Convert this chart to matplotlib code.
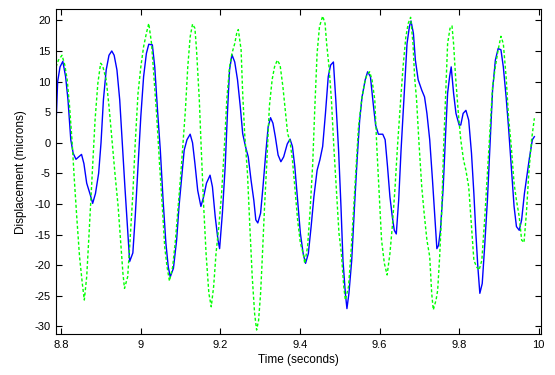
import matplotlib
matplotlib.use("Agg")
import matplotlib.pyplot as plt

plt.rcParams['font.family'] = ['Liberation Sans', 'DejaVu Sans']
plt.rcParams['axes.unicode_minus'] = False

# blue trace (solid)
t_blue = [8.787, 8.791, 8.797, 8.804, 8.811, 8.817, 8.824, 8.830, 8.837, 8.851,
          8.857, 8.864, 8.873, 8.879, 8.886, 8.894, 8.900, 8.906, 8.913, 8.920,
          8.927, 8.933, 8.940, 8.947, 8.953, 8.960, 8.967, 8.972, 8.980, 8.986,
          8.993, 9.000, 9.007, 9.014, 9.020, 9.029, 9.035, 9.042, 9.049, 9.056,
          9.063, 9.069, 9.074, 9.082, 9.090, 9.096, 9.103, 9.109, 9.116, 9.124,
          9.130, 9.136, 9.143, 9.151, 9.158, 9.165, 9.174, 9.180, 9.187, 9.194,
          9.198, 9.205, 9.212, 9.218, 9.223, 9.229, 9.236, 9.243, 9.250, 9.256,
          9.263, 9.270, 9.277, 9.284, 9.289, 9.294, 9.301, 9.307, 9.314, 9.320,
          9.326, 9.332, 9.338, 9.345, 9.352, 9.359, 9.368, 9.375, 9.381, 9.387,
          9.394, 9.401, 9.408, 9.414, 9.421, 9.428, 9.435, 9.443, 9.450, 9.457,
          9.464, 9.471, 9.477, 9.484, 9.490, 9.497, 9.503, 9.508, 9.514, 9.518,
          9.523, 9.530, 9.537, 9.544, 9.550, 9.556, 9.564, 9.570, 9.577, 9.584,
          9.590, 9.597, 9.608, 9.614, 9.620, 9.626, 9.632, 9.637, 9.642, 9.648,
          9.654, 9.662, 9.669, 9.675, 9.679, 9.685, 9.690, 9.697, 9.706, 9.713,
          9.719, 9.726, 9.733, 9.739, 9.744, 9.748, 9.753, 9.760, 9.766, 9.771,
          9.776, 9.780, 9.786, 9.792, 9.800, 9.804, 9.810, 9.817, 9.824, 9.831,
          9.837, 9.842, 9.847, 9.852, 9.858, 9.864, 9.871, 9.877, 9.884, 9.891,
          9.898, 9.905, 9.911, 9.918, 9.924, 9.931, 9.938, 9.944, 9.951, 9.957,
          9.964, 9.971, 9.977, 9.984, 9.989]
y_blue = [3.0, 10.0, 12.4, 13.3, 10.8, 7.0, 0.5, -1.7, -2.7, -1.9,
          -3.4, -6.6, -8.5, -9.9, -8.3, -5.0, 0.0, 7.0, 11.9, 14.3,
          15.0, 14.3, 11.9, 7.0, 0.5, -7.2, -14.3, -19.4, -18.0, -12.0,
          -3.9, 4.3, 10.8, 14.6, 16.1, 16.0, 12.4, 5.3, -1.2, -9.4,
          -16.4, -20.3, -21.9, -20.5, -15.9, -10.4, -5.5, -1.2, 0.5, 1.4,
          0.0, -3.4, -7.8, -10.4, -8.8, -6.6, -5.3, -7.2, -12.1, -15.9,
          -17.3, -11.5, -3.9, 5.3, 11.9, 14.4, 13.2, 10.3, 5.9, 1.5,
          -0.6, -2.3, -6.1, -9.4, -12.6, -13.1, -11.5, -7.2, -1.7, 2.6,
          4.1, 3.2, 1.0, -2.0, -3.1, -2.3, -0.2, 0.6, -0.6, -3.9,
          -9.4, -14.8, -18.1, -19.7, -18.1, -13.7, -8.8, -4.5, -2.8, -0.6,
          4.8, 10.8, 12.7, 13.2, 7.0, -1.2, -10.4, -19.2, -24.6, -27.1,
          -24.6, -19.2, -10.4, -2.3, 3.7, 7.5, 10.3, 11.6, 10.8, 6.4,
          2.9, 1.4, 1.4, 0.5, -3.9, -8.8, -12.1, -14.3, -14.9, -9.4,
          -1.2, 8.1, 16.2, 19.0, 19.9, 17.9, 13.5, 10.3, 8.6, 7.5,
          4.8, 0.5, -6.1, -12.1, -17.3, -16.8, -14.3, -7.2, 1.5, 8.1,
          10.8, 12.4, 8.1, 4.8, 2.9, 2.9, 4.8, 5.3, 3.7, -1.7,
          -8.3, -14.8, -20.3, -24.6, -23.0, -17.0, -9.4, -1.2, 8.6, 13.5,
          15.4, 15.2, 12.4, 7.5, 2.6, -3.9, -10.4, -13.7, -14.3, -12.6,
          -8.3, -5.0, -2.3, 0.5, 1.0]

# green trace (dotted)
t_green = [8.787, 8.793, 8.802, 8.809, 8.815, 8.821, 8.827, 8.833, 8.839, 8.846,
           8.853, 8.858, 8.864, 8.870, 8.878, 8.885, 8.892, 8.899, 8.904, 8.913,
           8.920, 8.929, 8.935, 8.943, 8.949, 8.955, 8.959, 8.967, 8.973, 8.980,
           8.986, 8.993, 9.000, 9.007, 9.014, 9.020, 9.027, 9.033, 9.040, 9.047,
           9.054, 9.060, 9.066, 9.072, 9.080, 9.087, 9.094, 9.100, 9.106, 9.112,
           9.118, 9.124, 9.130, 9.136, 9.140, 9.147, 9.152, 9.158, 9.164, 9.171,
           9.177, 9.183, 9.189, 9.196, 9.203, 9.210, 9.216, 9.223, 9.229, 9.236,
           9.241, 9.245, 9.252, 9.256, 9.261, 9.268, 9.274, 9.280, 9.286, 9.291,
           9.296, 9.301, 9.305, 9.311, 9.317, 9.323, 9.330, 9.336, 9.343, 9.350,
           9.357, 9.363, 9.369, 9.375, 9.381, 9.387, 9.394, 9.401, 9.408, 9.412,
           9.419, 9.425, 9.432, 9.437, 9.443, 9.449, 9.457, 9.463, 9.467, 9.473,
           9.479, 9.485, 9.492, 9.498, 9.504, 9.510, 9.514, 9.522, 9.528, 9.534,
           9.541, 9.547, 9.555, 9.562, 9.568, 9.575, 9.581, 9.588, 9.593, 9.599,
           9.605, 9.612, 9.619, 9.626, 9.632, 9.639, 9.645, 9.653, 9.659, 9.666,
           9.672, 9.678, 9.684, 9.688, 9.693, 9.699, 9.706, 9.712, 9.719, 9.726,
           9.731, 9.735, 9.742, 9.746, 9.751, 9.756, 9.761, 9.767, 9.771, 9.777,
           9.782, 9.786, 9.791, 9.798, 9.804, 9.811, 9.817, 9.824, 9.831, 9.837,
           9.844, 9.850, 9.857, 9.864, 9.871, 9.878, 9.884, 9.891, 9.898, 9.905,
           9.911, 9.918, 9.924, 9.931, 9.938, 9.944, 9.951, 9.957, 9.963, 9.969,
           9.975, 9.982, 9.989]
y_green = [12.4, 13.5, 14.3, 12.7, 10.3, 5.9, 0.5, -6.1, -12.1, -18.6,
           -23.0, -25.7, -21.9, -14.8, -5.0, 3.7, 9.7, 13.0, 12.6, 10.3,
           6.0, -0.6, -5.0, -10.4, -15.9, -21.3, -23.8, -21.9, -15.9, -8.3,
           0.0, 8.1, 12.4, 15.7, 17.9, 19.5, 16.2, 10.8, 4.3, -3.4,
           -10.4, -17.0, -20.3, -22.6, -20.3, -15.9, -10.4, -5.5, 0.0, 5.3,
           12.4, 17.3, 19.4, 18.7, 15.2, 7.0, -1.2, -10.4, -18.1, -24.6,
           -26.8, -23.5, -18.1, -13.7, -8.3, -0.6, 7.0, 12.4, 14.6, 16.2,
           17.9, 18.5, 15.2, 8.1, 1.5, -5.0, -13.7, -21.9, -27.9, -30.6,
           -29.0, -24.6, -19.2, -10.4, -2.8, 5.9, 10.3, 12.4, 13.5, 12.7,
           9.2, 5.3, 1.5, 0.2, -2.8, -7.2, -12.6, -16.4, -18.1, -19.7,
           -17.0, -11.5, -3.4, 5.3, 14.6, 19.0, 20.7, 19.5, 16.2, 12.4,
           7.0, -0.6, -8.3, -14.8, -18.1, -23.5, -25.7, -23.5, -18.1, -11.5,
           -3.9, 2.6, 7.0, 9.7, 11.1, 11.6, 10.3, 7.0, -0.6, -8.3,
           -15.9, -19.7, -21.6, -18.1, -13.7, -7.2, -0.6, 7.0, 12.4, 17.3,
           19.5, 20.5, 16.2, 10.8, 7.0, 0.0, -7.2, -11.5, -15.9, -18.6,
           -24.6, -27.3, -25.7, -24.1, -18.6, -11.5, -0.6, 9.7, 16.2, 18.7,
           19.1, 16.2, 10.8, 4.8, 0.5, -2.8, -4.5, -7.2, -13.7, -19.2,
           -20.3, -20.8, -19.2, -12.6, -5.0, 2.6, 9.2, 12.4, 15.2, 17.4,
           16.2, 10.8, 4.3, -0.6, -6.6, -9.4, -12.1, -15.9, -16.3, -11.5,
           -5.0, 0.5, 4.0]

x_ticks = [8.8, 9.0, 9.2, 9.4, 9.6, 9.8, 10.0]
x_tick_labels = ['8.8', '9', '9.2', '9.4', '9.6', '9.8', '10']
y_ticks = [-30, -25, -20, -15, -10, -5, 0, 5, 10, 15, 20]

fig = plt.figure(figsize=(5.55, 3.75), dpi=100)
ax = fig.add_axes([0.101, 0.1085, 0.874, 0.8665])

ax.plot(t_blue, y_blue, color='#0000ff', linewidth=1.0)
ax.plot(t_green, y_green, color='#00ff00', linewidth=1.0, linestyle=(0, (2.2, 1.6)))

ax.set_xlim(8.787, 10.006)
ax.set_ylim(-31.3, 21.8)
ax.set_xticks(x_ticks)
ax.set_xticklabels(x_tick_labels)
ax.set_yticks(y_ticks)
ax.tick_params(direction='in', top=True, right=True, length=4, width=0.8,
               labelsize=8, pad=4)
for sp in ax.spines.values():
    sp.set_linewidth(0.8)

ax.set_xlabel('Time (seconds)', fontsize=8.5, labelpad=3)
ax.set_ylabel('Displacement (microns)', fontsize=8.5, labelpad=5)

fig.savefig('out.png', dpi=100)
